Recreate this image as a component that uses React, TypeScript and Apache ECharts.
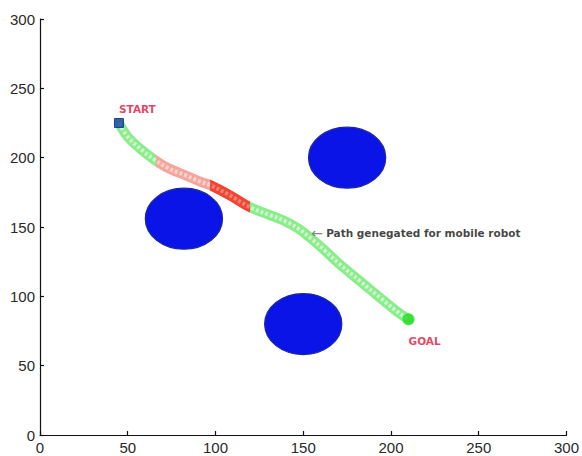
import React, { useEffect, useRef } from "react";
import * as echarts from "echarts";

// Workspace bounds and ticks
const AXIS_MIN = 0;
const AXIS_MAX = 300;
const TICK_STEP = 50;

// Circular obstacles: [x, y, radius]
const obstacles: number[][] = [
  [175, 200, 22],
  [82, 156, 22],
  [150, 80, 22],
];

const startPoint: number[] = [45, 225];
const goalPoint: number[] = [210, 83.5];

// Planned path waypoints from START to GOAL
const pathPoints: number[][] = [
  [45, 225],
  [50, 215],
  [58, 205.5],
  [65.5, 198.3],
  [73, 192.5],
  [82.5, 187.5],
  [92, 182.4],
  [97, 180.2],
  [108, 173],
  [119.5, 164.4],
  [131, 158.6],
  [140, 154],
  [147, 149],
  [153.6, 142.6],
  [162, 133.4],
  [170.6, 123.3],
  [182, 111.4],
  [193.3, 99.5],
  [204.6, 88],
  [210, 83.5],
];

// Segment boundaries along x: green | pink | red | green
const segmentBreaks: number[] = [66, 97, 119.5];

const annotationPoint: number[] = [154.5, 145.8];
const annotationText = "Path genegated for mobile robot";

function segmentPieces(green: string, pink: string, red: string) {
  return [
    { lt: segmentBreaks[0], color: green },
    { gte: segmentBreaks[0], lt: segmentBreaks[1], color: pink },
    { gte: segmentBreaks[1], lt: segmentBreaks[2], color: red },
    { gte: segmentBreaks[2], color: green },
  ];
}

export default function App() {
  const ref = useRef<HTMLDivElement>(null);

  useEffect(() => {
    if (!ref.current) return;
    const chart = echarts.init(ref.current, null, { renderer: "svg" });

    const axisCommon = {
      type: "value",
      min: AXIS_MIN,
      max: AXIS_MAX,
      interval: TICK_STEP,
      axisLine: { show: true, lineStyle: { color: "#111", width: 1.2 } },
      axisTick: { show: true, inside: true, length: 4, lineStyle: { color: "#111", width: 1.2 } },
      splitLine: { show: false },
      axisLabel: {
        color: "#2a2a2a",
        fontSize: 15,
        fontFamily: "Liberation Sans, Arial, sans-serif",
        margin: 5,
      },
    };

    const labelFont = "DejaVu Sans, Verdana, sans-serif";

    chart.setOption({
      animation: false,
      backgroundColor: "#ffffff",
      grid: { left: 40, right: 14, top: 19, bottom: 21, containLabel: false },
      xAxis: { ...axisCommon },
      yAxis: { ...axisCommon },
      visualMap: [
        {
          show: false,
          type: "piecewise",
          seriesIndex: 1,
          dimension: 0,
          pieces: segmentPieces("#8bec8b", "#f4a59d", "#ef4535"),
        },
        {
          show: false,
          type: "piecewise",
          seriesIndex: 2,
          dimension: 0,
          pieces: segmentPieces("#cbf8cb", "#fbd3cd", "#f6806f"),
        },
      ],
      series: [
        {
          name: "obstacles",
          type: "custom",
          data: obstacles,
          encode: { x: 0, y: 1 },
          renderItem: (params: any, api: any) => {
            const c = api.coord([api.value(0), api.value(1)]);
            const r = api.value(2);
            const s = api.size([r, r]);
            return {
              type: "ellipse",
              shape: { cx: c[0], cy: c[1], rx: s[0], ry: s[1] },
              style: { fill: "#0a14e6", stroke: "#1d2a9e", lineWidth: 1.2 },
            };
          },
          z: 2,
        },
        {
          name: "path",
          type: "line",
          data: pathPoints,
          smooth: 0.35,
          symbol: "none",
          lineStyle: { width: 10, cap: "round", join: "round" },
          z: 3,
        },
        {
          name: "path-beads",
          type: "line",
          data: pathPoints,
          smooth: 0.35,
          symbol: "none",
          lineStyle: { width: 4, type: [3, 2], cap: "butt" },
          z: 4,
        },
        {
          name: "goal",
          type: "scatter",
          data: [goalPoint],
          symbol: "circle",
          symbolSize: 12,
          itemStyle: { color: "#22dd22" },
          label: {
            show: true,
            formatter: "GOAL",
            position: "bottom",
            distance: 10,
            align: "left",
            color: "#e0103a",
            fontSize: 10.5,
            fontWeight: "bold",
            fontFamily: labelFont,
          },
          z: 6,
        },
        {
          name: "start",
          type: "scatter",
          data: [startPoint],
          symbol: "rect",
          symbolSize: 9,
          itemStyle: { color: "#1240a8", borderColor: "#0a2a80", borderWidth: 1 },
          label: {
            show: true,
            formatter: "START",
            position: "top",
            distance: 4,
            align: "left",
            color: "#e0103a",
            fontSize: 10.5,
            fontWeight: "bold",
            fontFamily: labelFont,
          },
          z: 6,
        },
        {
          name: "annotation",
          type: "scatter",
          data: [annotationPoint],
          symbolSize: 0,
          silent: true,
          label: {
            show: true,
            position: "right",
            distance: 0,
            formatter: "{a|←} {b|" + annotationText + "}",
            rich: {
              a: { color: "#666", fontSize: 14, fontFamily: "DejaVu Sans, sans-serif" },
              b: {
                color: "#111",
                fontSize: 10.5,
                fontWeight: "bold",
                fontFamily: labelFont,
              },
            },
          },
          z: 7,
        },
      ],
    });

    return () => chart.dispose();
  }, []);

  return (
    <div
      ref={ref}
      style={{ position: "fixed", left: 0, top: 0, width: 582, height: 456, background: "#fff" }}
    />
  );
}
